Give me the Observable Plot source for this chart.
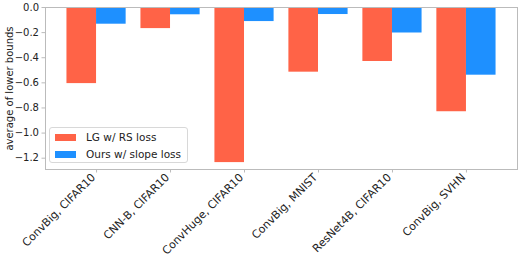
<!DOCTYPE html>
<html>
<head>
<meta charset="utf-8">
<script src="https://cdn.jsdelivr.net/npm/d3@7"></script>
<script src="https://cdn.jsdelivr.net/npm/@observablehq/plot@0.6"></script>
<style>
  html, body { margin: 0; padding: 0; background: #fff; }
  #wrap { position: relative; width: 520px; height: 260px; font-family: "DejaVu Sans", sans-serif; }
  #legend { position: absolute; left: 49px; top: 127px; width: 139px; height: 36px; box-sizing: border-box;
            border: 1px solid #d8d8d8; border-radius: 3px; background: rgba(255,255,255,0.8); font-size: 10.5px; color: #222; }
  .item { position: absolute; left: 5px; display: flex; align-items: center; }
  .sw { width: 21px; height: 7px; margin-right: 10px; }
</style>
</head>
<body>
<div id="wrap"></div>
<script>
const categories = ["ConvBig, CIFAR10", "CNN-B, CIFAR10", "ConvHuge, CIFAR10", "ConvBig, MNIST", "ResNet4B, CIFAR10", "ConvBig, SVHN"];
const seriesNames = ["LG w/ RS loss", "Ours w/ slope loss"];
const lgValues = [-0.606, -0.168, -1.235, -0.515, -0.430, -0.830];
const oursValues = [-0.133, -0.058, -0.112, -0.056, -0.203, -0.539];
const yTicks = [0, -0.2, -0.4, -0.6, -0.8, -1.0, -1.2];
const colors = ["#ff6347", "#1e90ff"];
const barWidth = 0.4;

const data = categories.flatMap((c, i) => seriesNames.map((s, j) => ({
  idx: i, cat: c, series: s, j, value: (j === 0 ? lgValues : oursValues)[i]
})));

const n = categories.length;
const pad = 0.05 * (n - 1 + 2 * barWidth);

const chart = Plot.plot({
  width: 520,
  height: 260,
  marginLeft: 45,
  marginTop: 7,
  marginRight: 3,
  marginBottom: 91,
  style: {fontFamily: "DejaVu Sans, sans-serif", fontSize: "10px", color: "#222", background: "transparent"},
  x: {domain: [-barWidth - pad, n - 1 + barWidth + pad], label: null},
  y: {domain: [-1.29, 0], label: null},
  color: {domain: seriesNames, range: colors},
  marks: [
    Plot.rectY(data, {
      x1: d => d.idx - barWidth + d.j * barWidth,
      x2: d => d.idx + d.j * barWidth,
      y1: 0, y2: "value", fill: "series"
    }),
    Plot.axisX({ticks: d3.range(n), tickSize: 3.5, stroke: "#bbb", text: null, label: null}),
    Plot.axisX({ticks: d3.range(n), tickFormat: i => categories[i], tickRotate: -45, tickSize: 0, tickPadding: 5,
      dx: -3, dy: 1, fill: "#222", fontSize: 11, label: null}),
    Plot.axisY({ticks: yTicks, tickFormat: d3.format(".1f"), tickSize: 3.5, tickPadding: 3, stroke: "#bbb", fill: "#222", fontSize: 10,
      label: "average of lower bounds", labelAnchor: "center", labelOffset: 40, labelArrow: "none"}),
    Plot.frame({stroke: "#bbb"})
  ]
});

const wrap = document.getElementById("wrap");
wrap.appendChild(chart);

const legend = document.createElement("div");
legend.id = "legend";
seriesNames.forEach((name, i) => {
  const item = document.createElement("div");
  item.className = "item";
  item.style.top = (i === 0 ? 3 : 20) + "px";
  const sw = document.createElement("span");
  sw.className = "sw";
  sw.style.background = colors[i];
  const t = document.createElement("span");
  t.textContent = name;
  item.appendChild(sw);
  item.appendChild(t);
  legend.appendChild(item);
});
wrap.appendChild(legend);
</script>
</body>
</html>
